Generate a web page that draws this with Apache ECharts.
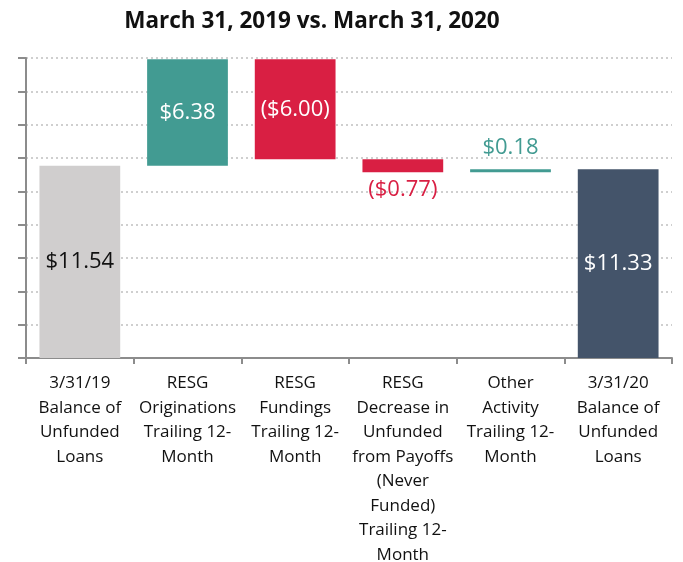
<!DOCTYPE html>
<html>
<head>
<meta charset="utf-8">
<script src="https://cdn.jsdelivr.net/npm/echarts@6/dist/echarts.min.js"></script>
<style>
  html, body { margin: 0; padding: 0; background: #fff; }
  #chart { width: 683px; height: 562px; }
</style>
</head>
<body>
<div id="chart"></div>
<script>
// 类目与数值
const categories = [
  '3/31/19\nBalance of\nUnfunded\nLoans',
  'RESG\nOriginations\nTrailing 12-\nMonth',
  'RESG\nFundings\nTrailing 12-\nMonth',
  'RESG\nDecrease in\nUnfunded\nfrom Payoffs\n(Never\nFunded)\nTrailing 12-\nMonth',
  'Other\nActivity\nTrailing 12-\nMonth',
  '3/31/20\nBalance of\nUnfunded\nLoans'
];
const values = [11.54, 6.38, -6.00, -0.77, 0.18, 11.33];
const isTotal = [true, false, false, false, false, true];
const barColors = ['#d0cece', '#429b92', '#d91f43', '#d91f43', '#429b92', '#44546a'];
const labelTexts = ['$11.54', '$6.38', '($6.00)', '($0.77)', '$0.18', '$11.33'];

const FONT = '"Open Sans", "Noto Sans", sans-serif';

// 计算瀑布图的透明底座和可见高度
const baseData = [];
const barData = [];
let running = 0;
values.forEach((v, i) => {
  let base, h;
  if (isTotal[i]) {
    base = 0; h = v; running = v;
  } else if (v >= 0) {
    base = running; h = v; running += v;
  } else {
    running += v; base = running; h = -v;
  }
  baseData.push(base);

  let label = {
    show: true, position: 'inside', color: '#fff',
    fontSize: 22, fontFamily: FONT, formatter: labelTexts[i]
  };
  if (i === 0) label.color = '#111';
  if (i === 3) label = Object.assign(label, { position: 'bottom', color: '#d91f43', distance: 7 });
  if (i === 4) label = Object.assign(label, { position: 'top', color: '#429b92', distance: 10 });

  barData.push({ value: h, itemStyle: { color: barColors[i] }, label: label });
});

const myChart = echarts.init(document.getElementById('chart'));
myChart.setOption({
  animation: false,
  title: {
    text: 'March 31, 2019 vs. March 31, 2020',
    left: 307,
    textAlign: 'center',
    top: 5,
    textStyle: { fontFamily: FONT, fontWeight: 'bold', fontSize: 22.5, color: '#111' }
  },
  grid: { left: 26, right: 11, top: 58, bottom: 204, outerBoundsMode: 'none' },
  xAxis: {
    type: 'category',
    data: categories,
    axisLine: { lineStyle: { color: '#8c8c8c', width: 2 } },
    axisTick: { show: true, length: 6, lineStyle: { color: '#8c8c8c', width: 2 } },
    axisLabel: {
      interval: 0, color: '#111', fontSize: 17, fontFamily: FONT,
      lineHeight: 24.5, margin: 13
    }
  },
  yAxis: {
    type: 'value',
    min: 0, max: 18, interval: 2,
    axisLine: { show: true, lineStyle: { color: '#8c8c8c', width: 2 } },
    axisTick: { show: true, length: 8, lineStyle: { color: '#8c8c8c', width: 2 } },
    axisLabel: { show: false },
    splitLine: { show: true, lineStyle: { color: '#c0c0c0', type: [2, 3], width: 1.5 } }
  },
  series: [
    {
      type: 'bar', stack: 'w', data: baseData,
      itemStyle: { color: 'transparent' }, barWidth: '75%', silent: true
    },
    {
      type: 'bar', stack: 'w', data: barData, barWidth: '75%'
    }
  ]
});
</script>
</body>
</html>
